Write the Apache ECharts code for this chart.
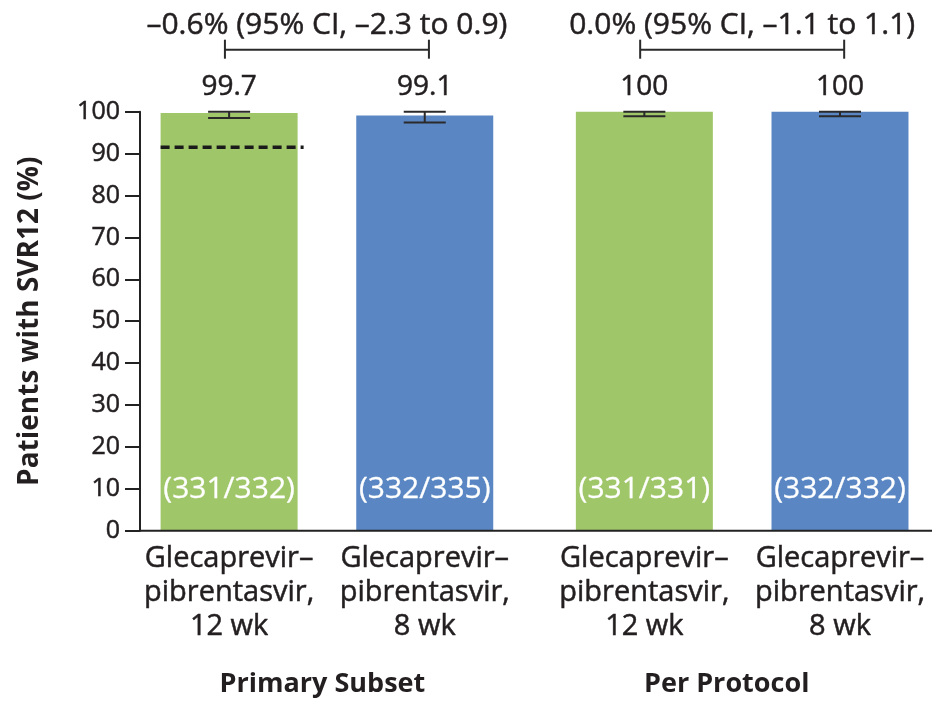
<!DOCTYPE html>
<html>
<head>
<meta charset="utf-8">
<script src="https://cdn.jsdelivr.net/npm/echarts@6/dist/echarts.min.js"></script>
<style>
  html, body { margin: 0; padding: 0; background: #ffffff; }
  #chart { width: 932px; height: 706px; }
</style>
</head>
<body>
<div id="chart"></div>
<script>
// ---- data ----
const groups = ['Primary Subset', 'Per Protocol'];
const armNames = ['Glecaprevir–\npibrentasvir,\n12 wk', 'Glecaprevir–\npibrentasvir,\n8 wk'];
const svr12wk = [99.7, 100];
const svr8wk = [99.1, 100];
const ciLow12wk = [98.5, 98.9];
const ciHigh12wk = [100, 100];
const ciLow8wk = [97.4, 98.9];
const ciHigh8wk = [100, 100];
const counts12wk = ['(331/332)', '(331/331)'];
const counts8wk = ['(332/335)', '(332/332)'];
const differences = ['–0.6% (95% CI, –2.3 to 0.9)', '0.0% (95% CI, –1.1 to 1.1)'];
const threshold = 91.5;           // dashed reference line in the 12-wk primary-subset bar
const yMin = 0, yMax = 100, yStep = 10;

// ---- styles ----
const FONT = '"Open Sans", sans-serif';
const TEXT = '#231f20';
const GREEN = '#a0c66a';
const BLUE = '#5a87c3';
const BAR_W = 137;
const BAR_GAP = 0.428;                       // gap between the two bars of a group, share of bar width
const HALF = (BAR_W + BAR_W * BAR_GAP) / 2;  // offset of each bar centre from its group centre
const Y_OFFSET = -20.7;                      // shifts the y axis right of the grid edge
const HEAVY = 0.5;                           // thin outline that gives regular text a little more weight

const chart = echarts.init(document.getElementById('chart'), null, { renderer: 'canvas' });

// one record per bar: [group, arm, value, ciLow, ciHigh]
const barRecords = [];
const countText = [];
groups.forEach((g, i) => {
  barRecords.push([i, 0, svr12wk[i], ciLow12wk[i], ciHigh12wk[i]]);
  countText.push(counts12wk[i]);
  barRecords.push([i, 1, svr8wk[i], ciLow8wk[i], ciHigh8wk[i]]);
  countText.push(counts8wk[i]);
});

function barCenter(api, g, arm) {
  return api.coord([g, 0])[0] + (arm === 0 ? -HALF : HALF);
}

function darkText(text, x, y, size, extra) {
  return {
    type: 'text',
    style: Object.assign({
      text: text, x: x, y: y,
      align: 'center', verticalAlign: 'middle',
      font: size + 'px ' + FONT, fill: TEXT,
      stroke: TEXT, lineWidth: HEAVY
    }, extra || {})
  };
}

const groupLabelStyle = { fontFamily: FONT, fontSize: 27, fontWeight: 'bold', color: TEXT };

const option = {
  animation: false,
  backgroundColor: '#ffffff',
  grid: {
    left: 119.3, right: -17.8, top: 111.7, bottom: 175.3,
    containLabel: false, outerBoundsMode: 'none'
  },
  xAxis: {
    type: 'category',
    data: groups,
    axisLine: { show: false },
    axisTick: { show: false },
    splitLine: { show: false },
    axisLabel: {
      margin: 140,
      formatter: (v, i) => (i === 0 ? '{a|' : '{b|') + v + '}',
      rich: {
        a: Object.assign({ padding: [0, 9, 0, 0] }, groupLabelStyle),
        b: Object.assign({ padding: [0, 31, 0, 0] }, groupLabelStyle)
      }
    }
  },
  yAxis: {
    type: 'value',
    min: yMin, max: yMax, interval: yStep,
    offset: Y_OFFSET,
    name: 'Patients with SVR12 (%)',
    nameLocation: 'middle',
    nameGap: 96,
    nameTextStyle: { fontFamily: FONT, fontSize: 28, fontWeight: 'bold', color: TEXT },
    axisLine: { show: true, lineStyle: { color: '#222', width: 2 } },
    axisTick: { show: true, length: 15, lineStyle: { color: '#222', width: 2 } },
    axisLabel: {
      margin: 20, fontFamily: FONT, fontSize: 25, color: TEXT,
      textBorderColor: TEXT, textBorderWidth: HEAVY
    },
    splitLine: { show: false }
  },
  series: [
    {
      name: '12 wk', type: 'bar', data: svr12wk,
      barWidth: BAR_W, barGap: (BAR_GAP * 100) + '%',
      itemStyle: { color: GREEN }, z: 2
    },
    {
      name: '8 wk', type: 'bar', data: svr8wk,
      barWidth: BAR_W, barGap: (BAR_GAP * 100) + '%',
      itemStyle: { color: BLUE }, z: 2
    },
    // error bars, value labels, counts and arm names
    {
      type: 'custom', z: 5, clip: false,
      data: barRecords,
      encode: { x: 0, y: [3, 4] },
      renderItem(params, api) {
        const g = api.value(0), arm = api.value(1);
        const x = barCenter(api, g, arm);
        const yLow = api.coord([g, api.value(3)])[1];
        const yHigh = api.coord([g, api.value(4)])[1];
        const y0 = api.coord([g, 0])[1];
        const top = params.coordSys.y;
        const stroke = { stroke: '#2a2a2a', lineWidth: 2 };
        return {
          type: 'group',
          children: [
            { type: 'line', shape: { x1: x, y1: yLow, x2: x, y2: yHigh }, style: stroke },
            { type: 'line', shape: { x1: x - 21, y1: yLow, x2: x + 21, y2: yLow }, style: stroke },
            { type: 'line', shape: { x1: x - 21, y1: yHigh, x2: x + 21, y2: yHigh }, style: stroke },
            darkText(String(api.value(2)), x, top - 25, 28),
            { type: 'text', style: {
                text: countText[params.dataIndex], x: x, y: y0 - 41,
                align: 'center', verticalAlign: 'middle',
                font: '30px ' + FONT, fill: '#ffffff', stroke: '#ffffff', lineWidth: 0.3 } },
            darkText(armNames[arm], x, y0 + 11, 29, { verticalAlign: 'top', lineHeight: 34 })
          ]
        };
      }
    },
    // comparison brackets with the difference and its CI
    {
      type: 'custom', z: 5, clip: false,
      data: groups.map((g, i) => [i, yMax]),
      encode: { x: 0, y: 1 },
      renderItem(params, api) {
        const g = api.value(0);
        const cx = api.coord([g, 0])[0];
        const top = params.coordSys.y;
        const yb = top - 62;
        const stroke = { stroke: '#2a2a2a', lineWidth: 2 };
        return {
          type: 'group',
          children: [
            { type: 'line', shape: { x1: cx - 102, y1: yb, x2: cx + 102, y2: yb }, style: stroke },
            { type: 'line', shape: { x1: cx - 102, y1: yb - 10, x2: cx - 102, y2: yb + 9 }, style: stroke },
            { type: 'line', shape: { x1: cx + 102, y1: yb - 10, x2: cx + 102, y2: yb + 9 }, style: stroke },
            darkText(differences[params.dataIndex], cx, top - 86, 30)
          ]
        };
      }
    },
    // dashed reference line across the 12-wk primary-subset bar
    {
      type: 'custom', z: 6, clip: false,
      data: [[0, threshold]],
      encode: { x: 0, y: 1 },
      renderItem(params, api) {
        const x = barCenter(api, 0, 0);
        const y = api.coord([0, api.value(1)])[1];
        return {
          type: 'line',
          shape: { x1: x - BAR_W / 2, y1: y, x2: x + BAR_W / 2 + 6, y2: y },
          style: { stroke: '#1a1a1a', lineWidth: 3.5, lineDash: [9, 5] }
        };
      }
    },
    // x baseline, starting at the y axis
    {
      type: 'custom', z: 4, clip: false,
      data: [[0, yMin]],
      encode: { x: 0, y: 1 },
      renderItem(params, api) {
        const cs = params.coordSys;
        const y = api.coord([0, yMin])[1];
        return {
          type: 'line',
          shape: { x1: cs.x - Y_OFFSET, y1: y, x2: cs.x + cs.width, y2: y },
          style: { stroke: '#222', lineWidth: 2 }
        };
      }
    }
  ]
};

chart.setOption(option);
</script>
</body>
</html>
